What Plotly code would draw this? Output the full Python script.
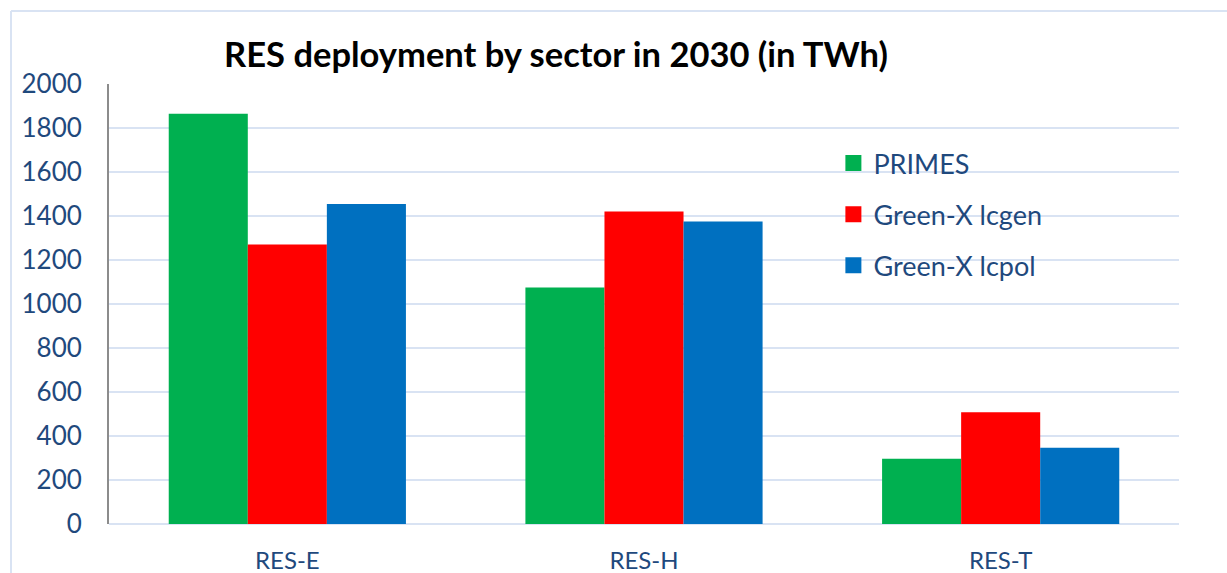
import plotly.graph_objects as go

# RES deployment by sector in 2030 (TWh)
sectors = ["RES-E", "RES-H", "RES-T"]
primes = [1865, 1075, 297]
greenx_lcgen = [1270, 1420, 508]
greenx_lcpol = [1455, 1375, 347]

series = [
    ("PRIMES", primes, "#00B050"),
    ("Green-X lcgen", greenx_lcgen, "#FF0000"),
    ("Green-X lcpol", greenx_lcpol, "#0070C0"),
]

FONT = "Lato, 'Open Sans', sans-serif"
TEXT_BLUE = "#1F497D"
GRID = "#D9E3F3"

fig = go.Figure()
for i, (name, vals, color) in enumerate(series):
    fig.add_trace(go.Bar(
        x=sectors, y=vals, name=name, marker_color=color,
        marker_line_width=0, showlegend=False,
    ))
    # legend entry with a larger square key
    fig.add_trace(go.Scatter(
        x=[None], y=[None], mode="markers", name=name,
        marker=dict(symbol="square", size=18, color=color),
        legendgroup=f"g{i}",
    ))

fig.update_layout(
    width=1227, height=573,
    margin=dict(l=109, r=48, t=84, b=49),
    paper_bgcolor="white", plot_bgcolor="white",
    barmode="group", bargap=0.335, bargroupgap=0,
    font=dict(family=FONT, color=TEXT_BLUE),
    title=dict(
        text="<b>RES deployment by sector in 2030 (in TWh)</b>",
        x=556 / 1227, xanchor="center", y=1 - 55 / 573, yanchor="middle",
        font=dict(family=FONT, size=34.5, color="black"),
    ),
    legend=dict(
        x=0.677, y=0.875, xanchor="left", yanchor="top",
        font=dict(family=FONT, size=27, color=TEXT_BLUE),
        bgcolor="rgba(0,0,0,0)", traceorder="grouped", tracegroupgap=13,
        itemsizing="trace",
    ),
    xaxis=dict(
        showgrid=False, showline=False, zeroline=False, ticks="",
        tickfont=dict(family=FONT, size=24, color=TEXT_BLUE),
        ticklabelstandoff=20, automargin=False,
    ),
    yaxis=dict(
        range=[0, 2000], dtick=200, showgrid=True, gridcolor=GRID, gridwidth=2,
        zeroline=True, zerolinecolor=GRID, zerolinewidth=2,
        showline=True, linecolor="#8C8C8C", linewidth=2,
        ticks="", ticklabelstandoff=20, automargin=False,
        tickfont=dict(family=FONT, size=26, color=TEXT_BLUE),
    ),
    shapes=[
        # outer chart-area frame (top and left edges)
        dict(type="line", xref="paper", yref="paper",
             x0=(11 - 109) / 1070, x1=(1240 - 109) / 1070,
             y0=(524 - 11) / 440, y1=(524 - 11) / 440,
             line=dict(color=GRID, width=2)),
        dict(type="line", xref="paper", yref="paper",
             x0=(11 - 109) / 1070, x1=(11 - 109) / 1070,
             y0=(524 - 11) / 440, y1=(524 - 600) / 440,
             line=dict(color=GRID, width=2)),
    ],
)

fig.write_html("out.html")
